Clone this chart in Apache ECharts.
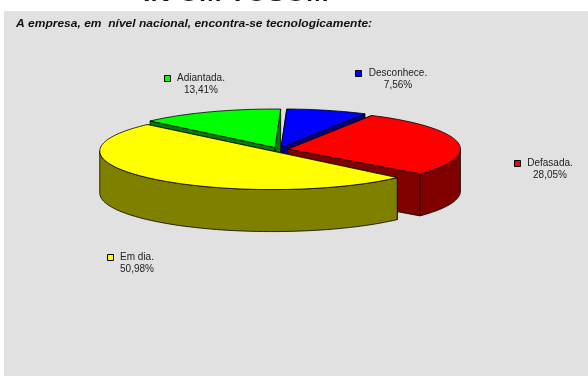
<!DOCTYPE html>
<html><head><meta charset="utf-8">
<style>html,body{margin:0;padding:0;background:#fff}#c{width:588px;height:376px}</style>
<script src="https://cdn.jsdelivr.net/npm/echarts@6/dist/echarts.min.js"></script>
</head><body><div id="c"></div>
<script>
const categories = ['Adiantada.', 'Desconhece.', 'Defasada.', 'Em dia.'];
const values = [13.41, 7.56, 28.05, 50.98];
const topColors = ['#00ff00', '#0000ff', '#ff0000', '#ffff00'];
const sideColors = ['#008000', '#000080', '#800000', '#808000'];
const chartTitle = 'A empresa, em  nível nacional, encontra-se tecnologicamente:';
const headingText = 'IN OM TOSOM';

const labelAnchors = [[201, 84], [398, 79], [550, 169], [137, 263]];
const swatchAnchors = [[164.5, 75.5], [355.5, 70.5], [514.5, 160.5], [107.5, 254.5]];
const geo = {cx: 278.6, cy: 149.5, a: 172.5, b: 38.5, depth: 42, explode: 0.055, start: 136.4, edgeTrim: [0, 0, 0, 3.5]};

const total = values.reduce((s, v) => s + v, 0);
const starts = [];
values.reduce((acc, v, i) => { starts[i] = acc; return acc + v; }, 0);

function pct(v) { return v.toFixed(2).replace('.', ',') + '%'; }
function arcPts(c, from, to) {
  const pts = [], n = Math.max(2, Math.ceil(Math.abs(to - from) / 2));
  for (let k = 0; k <= n; k++) {
    const t = (from + (to - from) * k / n) * Math.PI / 180;
    pts.push([c[0] + geo.a * Math.cos(t), c[1] - geo.b * Math.sin(t)]);
  }
  return pts;
}
const line = {stroke: '#000', lineWidth: 0.8};
function poly(points, fill) {
  return {type: 'polygon', shape: {points}, style: Object.assign({fill}, line)};
}
function renderItem(params, api) {
  const i = params.dataIndex, v = api.value(0);
  const rawStart = geo.start - starts[i] / total * 360;
  const a1 = rawStart - v / total * 360;
  const mid = (rawStart + a1) / 2 * Math.PI / 180;
  const a0 = rawStart - geo.edgeTrim[i];
  const c = [geo.cx + geo.explode * geo.a * Math.cos(mid), geo.cy - geo.explode * geo.b * Math.sin(mid)];
  const d = geo.depth, side = sideColors[i], kids = [];
  const down = p => [p[0], p[1] + d];
  const p0 = arcPts(c, a0, a0)[0], p1 = arcPts(c, a1, a1)[0];
  kids.push(poly([c, p0, down(p0), down(c)], side));
  kids.push(poly([c, p1, down(p1), down(c)], side));
  const ranges = [];
  for (let k = -2; k <= 1; k++) {
    const s = Math.max(a1, k * 360 + 180), e = Math.min(a0, k * 360 + 360);
    if (e > s) ranges.push([s, e]);
  }
  ranges.forEach(r => {
    const rim = arcPts(c, r[0], r[1]);
    kids.push(poly(rim.concat(rim.map(down).reverse()), side));
  });
  kids.push(poly([c].concat(arcPts(c, a0, a1)), topColors[i]));
  return {type: 'group', children: kids};
}
function labelItem(params, api) {
  const i = params.dataIndex, v = api.value(0);
  const la = labelAnchors[i], sw = swatchAnchors[i];
  const font = '10px "Liberation Sans", Arial, sans-serif';
  return {type: 'group', children: [
    {type: 'rect', shape: {x: sw[0], y: sw[1], width: 6, height: 6},
      style: {fill: topColors[i], stroke: '#000', lineWidth: 1}},
    {type: 'text', x: la[0], y: la[1], style: {text: categories[i] + '\n' + pct(v),
      font, fill: '#222', align: 'center', verticalAlign: 'middle', lineHeight: 12}}
  ]};
}
const chart = echarts.init(document.getElementById('c'), null, {renderer: 'canvas'});
chart.setOption({
  animation: false,
  backgroundColor: '#ffffff',
  graphic: [
    {type: 'rect', z: -10, shape: {x: 4, y: 11, width: 584, height: 365}, style: {fill: '#e1e1e1'}},
    {type: 'text', z: 5, x: 143, y: -18, scaleX: 1.09, style: {text: headingText, font: 'bold 25px "Liberation Sans", Arial, sans-serif', fill: '#111', verticalAlign: 'top', align: 'left'}},
    {type: 'text', z: 5, x: 16, y: 19, scaleX: 1.145, style: {text: chartTitle, font: 'italic bold 10.5px "Liberation Sans", Arial, sans-serif', fill: '#111', align: 'left', verticalAlign: 'top'}}
  ],
  series: [
    {type: 'custom', coordinateSystem: 'none', silent: true, renderItem, data: values.map(v => [v]), clip: false},
    {type: 'custom', coordinateSystem: 'none', silent: true, renderItem: labelItem, data: values.map(v => [v]), z: 3}
  ]
});
</script></body></html>
